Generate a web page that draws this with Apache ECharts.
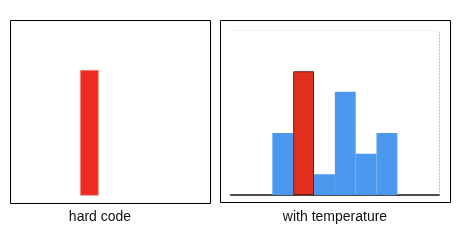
<!DOCTYPE html>
<html><head><meta charset="utf-8">
<script src="https://cdn.jsdelivr.net/npm/echarts@6/dist/echarts.min.js"></script>
<style>html,body{margin:0;padding:0;background:#fff}#c{width:461px;height:241px}</style>
</head><body><div id="c"></div>
<script>
var bins = ['0','1','2','3','4','5','6','7','8','9'];
var hardCodeRed = [0,0,0,6,0,0,0,0,0,0];
var tempBlue = [0,0,3,0,1,5,2,3,0,0];
var tempRed = [0,0,0,6,0,0,0,0,0,0];
var panelTitles = ['hard code','with temperature'];

function nz(arr){ return arr.map(function(v){ return v === 0 ? '-' : v; }); }

var chart = echarts.init(document.getElementById('c'), null, {renderer:'canvas'});
chart.setOption({
  animation:false,
  backgroundColor:'#fff',
  graphic:[
    {type:'rect',shape:{x:10.5,y:20.5,width:200,height:183},style:{fill:null,stroke:'#000',lineWidth:1}},
    {type:'rect',shape:{x:220.5,y:20.5,width:230,height:182},style:{fill:null,stroke:'#000',lineWidth:1}},
    {type:'line',shape:{x1:231,y1:30.5,x2:439,y2:30.5},style:{stroke:'#f4f4f4',lineWidth:1}}
  ],
  title:[
    {text:panelTitles[0],left:95,top:205,textAlign:'center',textStyle:{fontFamily:'Liberation Sans, Arial',fontSize:14,fontWeight:'normal',color:'#111'}},
    {text:panelTitles[1],left:330,top:205,textAlign:'center',textStyle:{fontFamily:'Liberation Sans, Arial',fontSize:14,fontWeight:'normal',color:'#111'}}
  ],
  grid:[
    {left:23.9,width:187,top:28,bottom:45.3},
    {left:230.7,width:208.3,top:30,bottom:46}
  ],
  xAxis:[
    {type:'category',gridIndex:0,data:bins,boundaryGap:true,axisLine:{show:false},axisTick:{show:false},axisLabel:{show:false}},
    {type:'category',gridIndex:1,data:bins,boundaryGap:true,axisLine:{show:true,lineStyle:{color:'#111',width:1.5}},axisTick:{show:false},axisLabel:{show:false}}
  ],
  yAxis:[
    {type:'value',gridIndex:0,min:0,max:8,axisLine:{show:false},axisTick:{show:false},axisLabel:{show:false},splitLine:{show:false}},
    {type:'value',gridIndex:1,min:0,max:8,position:'right',axisLine:{show:true,lineStyle:{color:'#c8c060',type:[1,2],width:1}},axisTick:{show:false},axisLabel:{show:false},splitLine:{show:false}}
  ],
  series:[
    {type:'bar',xAxisIndex:0,yAxisIndex:0,data:nz(hardCodeRed),barWidth:'100%',itemStyle:{color:'#ef2a1e',borderColor:'#ec8a8a',borderWidth:0.8}},
    {type:'bar',xAxisIndex:1,yAxisIndex:1,data:nz(tempBlue),barWidth:'100%',barGap:'-100%',itemStyle:{color:'#4b98ef',borderColor:'#4b98ef',borderWidth:1.2}},
    {type:'bar',xAxisIndex:1,yAxisIndex:1,data:nz(tempRed),barWidth:'100%',barGap:'-100%',itemStyle:{color:'#e2301f',borderColor:'#6e1a10',borderWidth:1}}
  ]
});
</script></body></html>
